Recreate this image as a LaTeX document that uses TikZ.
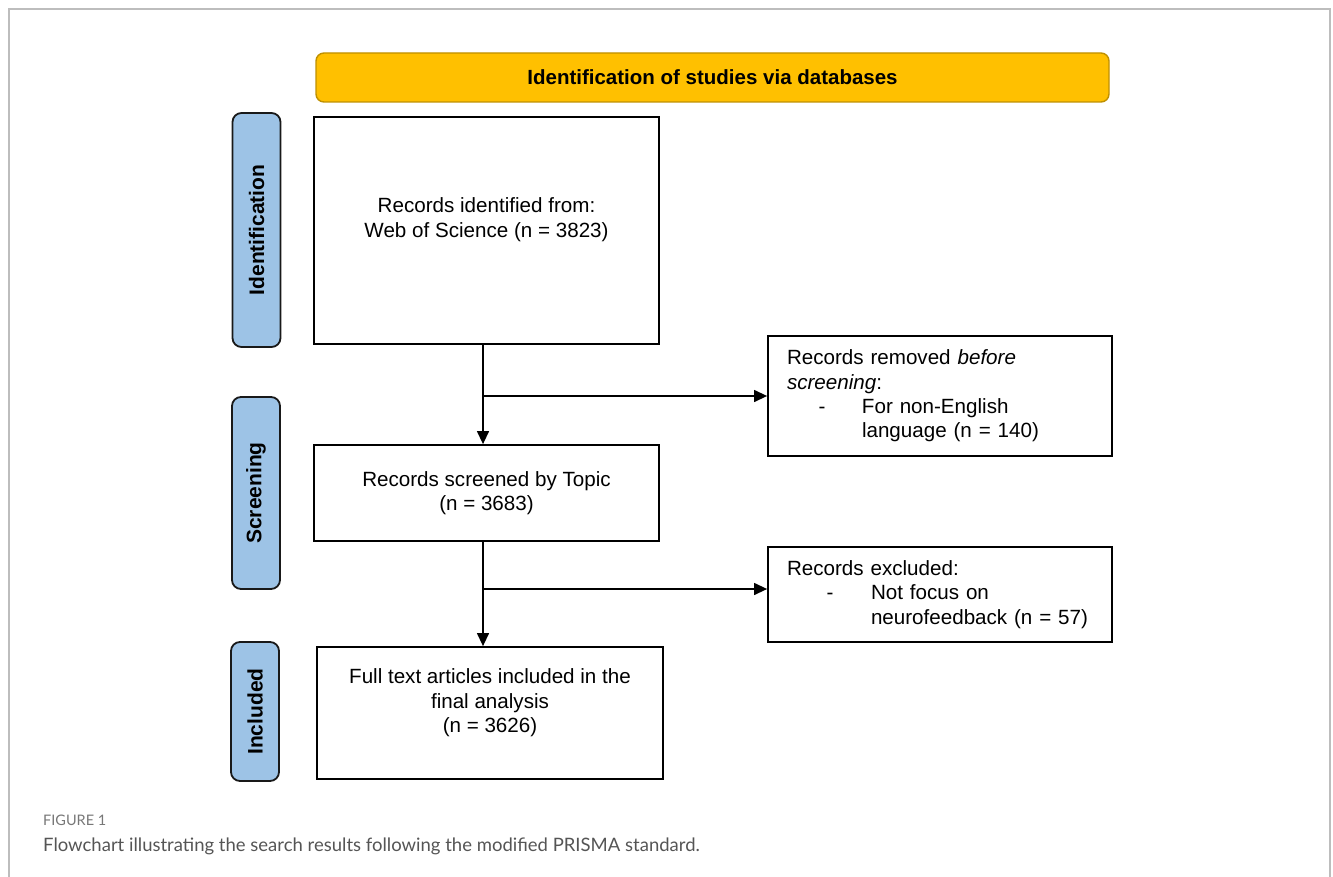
\documentclass[tikz,border=0pt]{standalone}
\usepackage{fontspec}
\setmainfont{Liberation Sans}
\newfontfamily\capfont{Lato}
\usetikzlibrary{arrows.meta}
\definecolor{gold}{HTML}{FFC000}
\definecolor{goldline}{HTML}{BF9000}
\definecolor{sideblue}{HTML}{9DC3E6}
\definecolor{framegray}{HTML}{BDBDBD}
\definecolor{capgray}{HTML}{555555}
\begin{document}
\begin{tikzpicture}[x=1pt,y=-1pt,
  txt/.style={font=\fontsize{20.6}{24.5}\selectfont},
  box/.style={draw=black, line width=1.8pt, fill=white, inner sep=0pt},
  rbox/.style={draw=black, line width=1.8pt, fill=white, inner xsep=19pt, inner ysep=0pt,
     text width=306pt, align=left, minimum width=344pt, font=\fontsize{20.6}{24.3}\selectfont},
  side/.style={draw=black!90, fill=sideblue, line width=1.8pt, rounded corners=9pt,
     minimum height=48pt, inner sep=0pt, rotate=90, font=\bfseries\fontsize{21}{24}\selectfont},
  banner/.style={draw=goldline, fill=gold, line width=1.4pt, rounded corners=8pt,
     minimum width=793pt, minimum height=49pt, inner sep=0pt, font=\bfseries\fontsize{20.5}{24}\selectfont},
  conn/.style={line width=1.3pt, draw=black},
  arr/.style={conn, -{Triangle[length=13pt,width=12pt]}}
]
\useasboundingbox (0,0) rectangle (1333,877);
\draw[framegray, line width=1.6pt] (9,877) -- (9,9) -- (1330,9) -- (1330,877);

\node[banner] (ban) at (712.5,77.5) {Identification of studies via databases};

\node[side, minimum width=234pt] (sid) at (256.5,230) {Identification};
\node[side, minimum width=192pt] (sscr) at (256,493) {Screening};
\node[side, minimum width=139pt] (sinc) at (255,711.5) {Included};

\node[box, minimum width=345pt, minimum height=227pt,
  label={[txt, align=center, yshift=11pt]center:Records identified from:\\Web of Science (n = 3823)}]
  (b1) at (486.5,230.5) {};
\node[box, minimum width=345pt, minimum height=96pt,
  label={[txt, align=center]center:Records screened by Topic\\(n = 3683)}]
  (b2) at (486.5,493) {};
\node[box, minimum width=346pt, minimum height=132pt,
  label={[txt, align=center, yshift=10pt]center:Full text articles included in the\\final analysis\\(n = 3626)}]
  (b3) at (490,713) {};

\node[rbox, minimum height=120pt] (r1) at (940,396)
  {Records removed \textit{before}\\
   \textit{screening}:\\
   \makebox[75pt][l]{\hspace*{31.5pt}-}For non-English\\
   \hspace*{75pt}language (n = 140)};
\node[rbox, minimum height=95pt] (r2) at (940,594.5)
  {Records excluded:\\
   \makebox[84pt][l]{\hspace*{39.5pt}-}Not focus on\\
   \hspace*{84pt}neurofeedback (n = 57)};

\coordinate (j1) at (483,396);
\coordinate (j2) at (483,589);
\draw[conn] (b1.south -| j1) -- (j1);
\draw[arr] (j1) -- (b2.north -| j1);
\draw[arr] (j1) -- (j1 -| r1.west);
\draw[conn] (b2.south -| j2) -- (j2);
\draw[arr] (j2) -- (b3.north -| j2);
\draw[arr] (j2) -- (j2 -| r2.west);

\node[anchor=west, inner sep=0pt, text=capgray!80, font=\capfont\fontsize{14.5}{16}\selectfont] (fig) at (43,820) {FIGURE 1};
\node[anchor=west, inner sep=0pt, text=capgray, font=\capfont\fontsize{18.5}{21}\selectfont] (cap) at (43,846)
  {Flowchart illustrating the search results following the modified PRISMA standard.};
\end{tikzpicture}
\end{document}
